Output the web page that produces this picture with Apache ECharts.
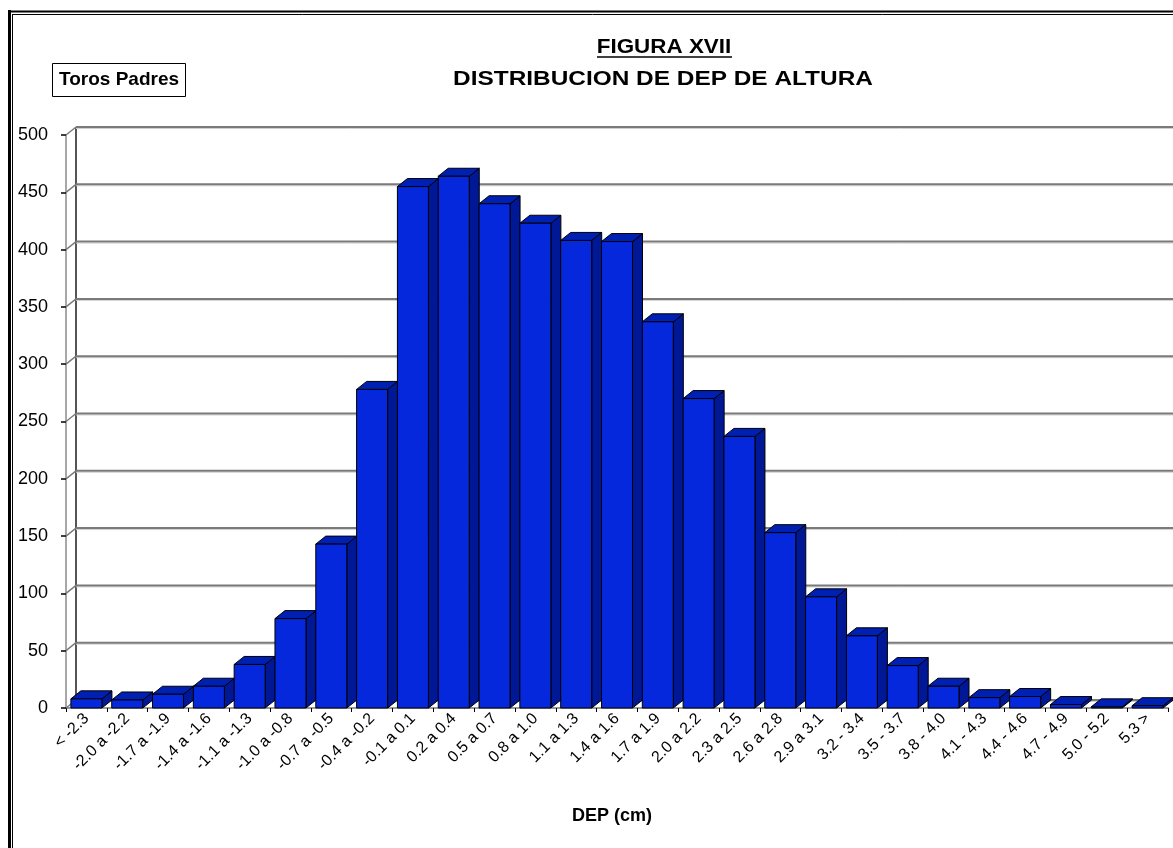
<!DOCTYPE html>
<html>
<head>
<meta charset="utf-8">
<script src="https://cdn.jsdelivr.net/npm/echarts@6/dist/echarts.min.js"></script>
<style>
  html, body { margin: 0; padding: 0; background: #ffffff; }
  #chart { width: 1173px; height: 848px; }
</style>
</head>
<body>
<div id="chart"></div>
<script>
// DEP class intervals (cm) and number of sires in each
const categories = [
  '< -2.3', '-2.0 a -2.2', '-1.7 a -1.9', '-1.4 a -1.6', '-1.1 a -1.3',
  '-1.0 a -0.8', '-0.7 a -0.5', '-0.4 a -0.2', '-0.1 a 0.1', '0.2 a 0.4',
  '0.5 a 0.7', '0.8 a 1.0', '1.1 a 1.3', '1.4 a 1.6', '1.7 a 1.9',
  '2.0 a 2.2', '2.3 a 2.5', '2.6 a 2.8', '2.9 a 3.1', '3.2 - 3.4',
  '3.5 - 3.7', '3.8 - 4.0', '4.1 - 4.3', '4.4 - 4.6', '4.7 - 4.9',
  '5.0 - 5.2', '5.3 >'
];
const counts = [
  8, 7, 12, 19, 38,
  78, 143, 278, 455, 464,
  440, 423, 408, 407, 337,
  270, 237, 153, 97, 63,
  37, 19, 9, 10, 3,
  1, 2
];
const yTicks = [0, 50, 100, 150, 200, 250, 300, 350, 400, 450, 500];

const figureLabel = 'FIGURA XVII';
const chartTitle = 'DISTRIBUCION DE DEP DE ALTURA';
const groupLabel = 'Toros Padres';
const xAxisTitle = 'DEP (cm)';

// pseudo-3D depth offset
const DX = 10, DY = -8;
const FRONT = '#0628DC', TOP = '#0020B4', SIDE = '#001896', EDGE = '#000000';
const FONT = "'Liberation Sans', Arial, sans-serif";

// back wall gridlines and side-wall diagonals
function renderWall(params, api) {
  const cs = params.coordSys;
  const v = api.value(0);
  const y = api.coord([0, v])[1];
  const x0 = cs.x, x1 = cs.x + cs.width;
  const children = [
    { type: 'line', shape: { x1: x0 + DX, y1: y + DY + 1.5, x2: x1 + DX, y2: y + DY + 1.5 },
      style: { stroke: '#d0d0d0', lineWidth: 1 } },
    { type: 'line', shape: { x1: x0 + DX, y1: y + DY, x2: x1 + DX, y2: y + DY },
      style: { stroke: '#7a7a7a', lineWidth: 2 } },
    { type: 'line', shape: { x1: x0, y1: y, x2: x0 + DX, y2: y + DY },
      style: { stroke: '#7a7a7a', lineWidth: 1.5 } }
  ];
  if (params.dataIndex === 0) {
    const yTop = api.coord([0, yTicks[yTicks.length - 1]])[1];
    children.push({ type: 'line', shape: { x1: x0 + DX, y1: yTop + DY, x2: x0 + DX, y2: y + DY },
      style: { stroke: '#555555', lineWidth: 2 } });
  }
  return { type: 'group', children: children };
}

// bar with front, top and right-side faces
function renderBar(params, api) {
  const i = api.value(0), v = api.value(1);
  const base = api.coord([i, 0]);
  const top = api.coord([i, v]);
  const w = api.size([1, 0])[0] * 0.76;
  const xl = base[0] - w / 2, xr = base[0] + w / 2;
  const yb = base[1], yt = top[1];
  return {
    type: 'group',
    children: [
      { type: 'polygon', shape: { points: [[xr, yt], [xr + DX, yt + DY], [xr + DX, yb + DY], [xr, yb]] },
        style: { fill: SIDE, stroke: EDGE, lineWidth: 1 } },
      { type: 'polygon', shape: { points: [[xl, yt], [xr, yt], [xr + DX, yt + DY], [xl + DX, yt + DY]] },
        style: { fill: TOP, stroke: EDGE, lineWidth: 1 } },
      { type: 'rect', shape: { x: xl, y: yt, width: w, height: yb - yt },
        style: { fill: FRONT, stroke: EDGE, lineWidth: 1 } }
    ]
  };
}

const chart = echarts.init(document.getElementById('chart'), null, { renderer: 'canvas' });

chart.setOption({
  backgroundColor: '#ffffff',
  animation: false,
  textStyle: { fontFamily: FONT },
  grid: { left: 66, right: 5, top: 135, bottom: 140, containLabel: false },
  xAxis: {
    type: 'category',
    data: categories,
    boundaryGap: true,
    axisLine: { show: true, lineStyle: { color: '#9a9a9a', width: 2 } },
    axisTick: { show: true, length: 4, lineStyle: { color: '#000000', width: 1 } },
    axisLabel: {
      interval: 0, rotate: 45, margin: 8,
      color: '#000000', fontSize: 16, fontFamily: FONT
    },
    splitLine: { show: false }
  },
  yAxis: {
    type: 'value',
    min: 0, max: 500, interval: 50,
    axisLine: { show: true, lineStyle: { color: '#a8a8a8', width: 2 } },
    axisTick: { show: true, length: 5, lineStyle: { color: '#000000', width: 1.5 } },
    axisLabel: { color: '#000000', fontSize: 18, fontFamily: FONT, margin: 18 },
    splitLine: { show: false }
  },
  series: [
    {
      type: 'custom',
      name: 'wall',
      data: yTicks.map(v => [v]),
      renderItem: renderWall,
      silent: true,
      z: 1
    },
    {
      type: 'custom',
      name: 'Toros Padres',
      data: counts.map((v, i) => [i, v]),
      encode: { x: 0, y: 1 },
      renderItem: renderBar,
      z: 2
    }
  ],
  graphic: [
    // double frame
    { type: 'line', shape: { x1: 9.5, y1: 10, x2: 9.5, y2: 848 }, style: { stroke: '#000', lineWidth: 3 } },
    { type: 'line', shape: { x1: 8, y1: 11.5, x2: 1173, y2: 11.5 }, style: { stroke: '#000', lineWidth: 2 } },
    { type: 'line', shape: { x1: 12.5, y1: 14, x2: 12.5, y2: 848 }, style: { stroke: '#000', lineWidth: 1 } },
    { type: 'line', shape: { x1: 12, y1: 14.5, x2: 1173, y2: 14.5 }, style: { stroke: '#000', lineWidth: 1 } },
    // titles
    { type: 'text', x: 664, y: 47, scaleX: 1.12,
      style: { text: figureLabel, font: 'bold 20px ' + FONT, fill: '#000', align: 'center', verticalAlign: 'middle' } },
    { type: 'line', shape: { x1: 597, y1: 57, x2: 732, y2: 57 }, style: { stroke: '#000', lineWidth: 1.5 } },
    { type: 'text', x: 663, y: 79, scaleX: 1.22,
      style: { text: chartTitle, font: 'bold 20px ' + FONT, fill: '#000', align: 'center', verticalAlign: 'middle' } },
    // group label box
    { type: 'rect', shape: { x: 52.5, y: 63.5, width: 133, height: 33 },
      style: { fill: '#fff', stroke: '#000', lineWidth: 1 } },
    { type: 'text', x: 119, y: 80,
      style: { text: groupLabel, font: 'bold 19px ' + FONT, fill: '#000', align: 'center', verticalAlign: 'middle' } },
    // x-axis title
    { type: 'text', x: 612, y: 816,
      style: { text: xAxisTitle, font: 'bold 18px ' + FONT, fill: '#000', align: 'center', verticalAlign: 'middle' } }
  ]
});
</script>
</body>
</html>
